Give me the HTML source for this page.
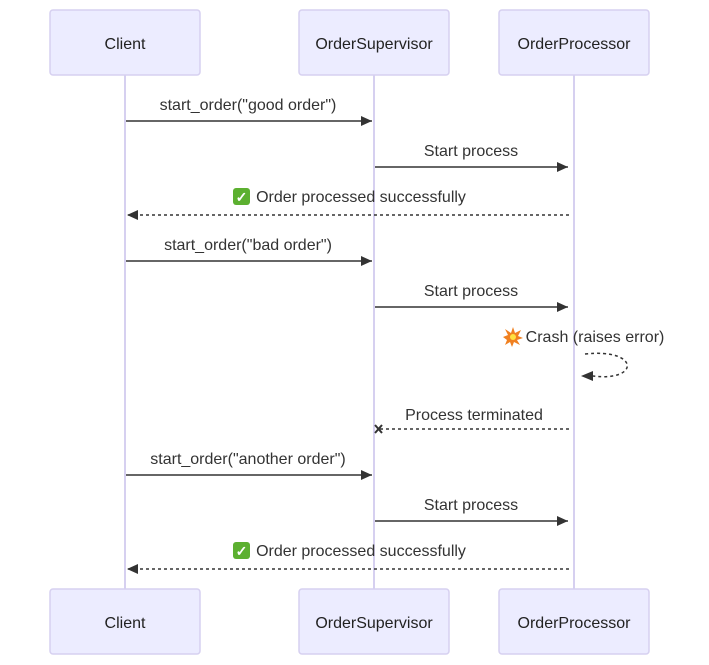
<!DOCTYPE html>
<html><head><meta charset="utf-8"><style>
html,body{margin:0;padding:0;background:#fff;}
svg{display:block;font-family:"Liberation Sans",Arial,sans-serif;}
</style></head><body>
<svg width="709" height="665" viewBox="0 0 709 665" xmlns="http://www.w3.org/2000/svg">
<defs>
<marker id="ah" markerWidth="12" markerHeight="10" refX="11" refY="5" orient="auto" markerUnits="userSpaceOnUse"><path d="M0,0 L11,5 L0,10 z" fill="#333"/></marker>
</defs>
<g stroke="#d6d0f0" stroke-width="2">
<line x1="125" y1="75" x2="125" y2="589"/>
<line x1="374" y1="75" x2="374" y2="589"/>
<line x1="574" y1="75" x2="574" y2="589"/>
</g>
<g fill="#ececff" stroke="#d6d0f0" stroke-width="1.5">
<rect x="50" y="10" width="150" height="65" rx="3"/>
<rect x="299" y="10" width="150" height="65" rx="3"/>
<rect x="499" y="10" width="150" height="65" rx="3"/>
<rect x="50" y="589" width="150" height="65" rx="3"/>
<rect x="299" y="589" width="150" height="65" rx="3"/>
<rect x="499" y="589" width="150" height="65" rx="3"/>
</g>
<g font-size="16" fill="#222" text-anchor="middle">
<text x="125" y="49">Client</text>
<text x="374" y="49">OrderSupervisor</text>
<text x="574" y="49">OrderProcessor</text>
<text x="125" y="628">Client</text>
<text x="374" y="628">OrderSupervisor</text>
<text x="574" y="628">OrderProcessor</text>
</g>
<g font-size="16" fill="#333" text-anchor="middle">
<text x="248" y="110">start_order("good order")</text>
<text x="471" y="156">Start process</text>
<text x="361" y="202">Order processed successfully</text>
<text x="248" y="250">start_order("bad order")</text>
<text x="471" y="296">Start process</text>
<text x="595" y="342">Crash (raises error)</text>
<text x="474" y="420">Process terminated</text>
<text x="248" y="464">start_order("another order")</text>
<text x="471" y="510">Start process</text>
<text x="361" y="556">Order processed successfully</text>
</g>
<g>
<rect x="233" y="188" width="17" height="17" rx="3" fill="#5cb030"/>
<text x="241.5" y="202" font-size="14" fill="#fff" text-anchor="middle" font-weight="bold">✓</text>
<rect x="233" y="542" width="17" height="17" rx="3" fill="#5cb030"/>
<text x="241.5" y="556" font-size="14" fill="#fff" text-anchor="middle" font-weight="bold">✓</text>
<polygon points="513,327 515,333 521,330 518,336 523,338 517,340 520,345 514,342 512,347 510,342 505,345 507,340 503,337 508,335 505,329 511,333" fill="#f08020"/>
<circle cx="513" cy="337" r="3" fill="#ffe040"/>
</g>
<g stroke="#333" stroke-width="1.5" fill="none">
<line x1="126" y1="121" x2="372" y2="121" marker-end="url(#ah)"/>
<line x1="375" y1="167" x2="568" y2="167" marker-end="url(#ah)"/>
<line x1="569" y1="215" x2="127" y2="215" stroke-dasharray="3,3" marker-end="url(#ah)"/>
<line x1="126" y1="261" x2="372" y2="261" marker-end="url(#ah)"/>
<line x1="375" y1="307" x2="568" y2="307" marker-end="url(#ah)"/>
<path d="M585,354 C640,348 640,382 593,376" stroke-dasharray="3,3"/>
<line x1="569" y1="429" x2="380" y2="429" stroke-dasharray="3,3"/>
<line x1="126" y1="475" x2="372" y2="475" marker-end="url(#ah)"/>
<line x1="375" y1="521" x2="568" y2="521" marker-end="url(#ah)"/>
<line x1="569" y1="569" x2="127" y2="569" stroke-dasharray="3,3" marker-end="url(#ah)"/>
</g>
<path d="M593,371 L581,376 L593,381 z" fill="#333"/>
<g stroke="#333" stroke-width="2">
<line x1="375" y1="425" x2="382" y2="433"/>
<line x1="382" y1="425" x2="375" y2="433"/>
</g>
</svg>
</body></html>
